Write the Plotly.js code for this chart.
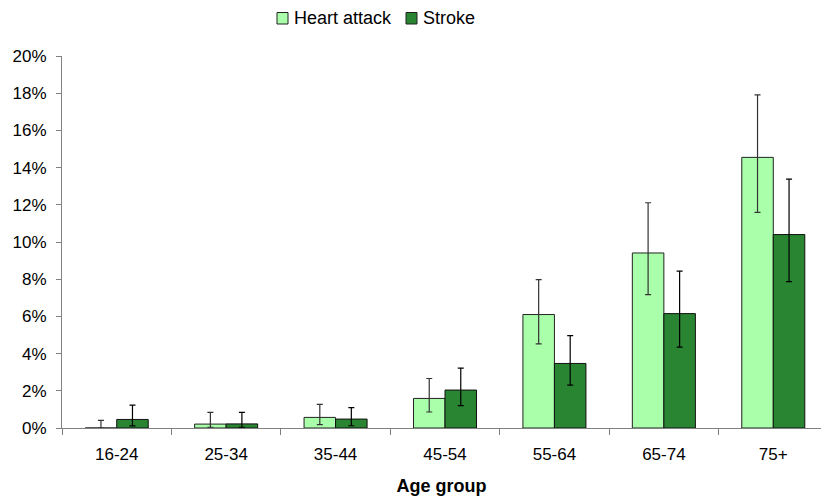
<!DOCTYPE html>
<html>
<head>
<meta charset="utf-8">
<script src="https://cdn.plot.ly/plotly-3.0.1.min.js"></script>
<style>
  html, body { margin: 0; padding: 0; background: #fff; }
  #chart { width: 821px; height: 497px; }
</style>
</head>
<body>
<div id="chart"></div>
<script>
// Prevalence by age group, with 95% confidence intervals (percent)
const ageGroups = ['16-24', '25-34', '35-44', '45-54', '55-64', '65-74', '75+'];

const heartAttack     = [0.0, 0.21, 0.57, 1.59, 6.10, 9.41, 14.55];
const heartAttackLow  = [0.0, 0.04, 0.18, 0.86, 4.52, 7.17, 11.59];
const heartAttackHigh = [0.41, 0.84, 1.27, 2.66, 7.98, 12.11, 17.91];

const stroke     = [0.46, 0.22, 0.48, 2.04, 3.47, 6.15, 10.40];
const strokeLow  = [0.11, 0.04, 0.12, 1.20, 2.31, 4.35, 7.87];
const strokeHigh = [1.23, 0.84, 1.10, 3.22, 4.97, 8.43, 13.38];

const yTicks = [0, 2, 4, 6, 8, 10, 12, 14, 16, 18, 20];

const heartColor = '#AAFFAA';
const strokeColor = '#2A8532';
const axisColor = '#808080';
const font = 'Liberation Sans, Arial, sans-serif';

const plus = (v, hi) => v.map((d, i) => hi[i] - d);
const minus = (v, lo) => v.map((d, i) => d - lo[i]);

const traces = [
  {
    type: 'bar', name: 'Heart attack', x: ageGroups, y: heartAttack,
    marker: { color: heartColor, line: { color: '#222', width: 1 } },
    error_y: {
      type: 'data', symmetric: false,
      array: plus(heartAttack, heartAttackHigh),
      arrayminus: minus(heartAttack, heartAttackLow),
      color: '#333', thickness: 1.2, width: 3
    },
    showlegend: false
  },
  {
    type: 'bar', name: 'Stroke', x: ageGroups, y: stroke,
    marker: { color: strokeColor, line: { color: '#111', width: 1 } },
    error_y: {
      type: 'data', symmetric: false,
      array: plus(stroke, strokeHigh),
      arrayminus: minus(stroke, strokeLow),
      color: '#000', thickness: 1.2, width: 3
    },
    showlegend: false
  }
];

// Plot area in pixels, used to place the legend keys
const M = { l: 62, r: 0, t: 56, b: 69 };
const W = 821, H = 497;
const pw = W - M.l - M.r, ph = H - M.t - M.b;
const px = x => (x - M.l) / pw;
const py = y => (H - M.b - y) / ph;

const legendItems = [
  { label: 'Heart attack', color: heartColor, x: 277 },
  { label: 'Stroke', color: strokeColor, x: 406 }
];

const shapes = legendItems.map(it => ({
  type: 'rect', xref: 'paper', yref: 'paper',
  x0: px(it.x), x1: px(it.x + 11), y0: py(24), y1: py(12.5),
  fillcolor: it.color, line: { color: '#222', width: 1 }
}));

const annotations = legendItems.map(it => ({
  xref: 'paper', yref: 'paper', x: px(it.x + 15), y: py(18.5),
  xanchor: 'left', yanchor: 'middle', showarrow: false,
  text: it.label, font: { family: font, size: 18, color: '#000' }
}));

const layout = {
  width: W, height: H,
  margin: M,
  paper_bgcolor: '#fff', plot_bgcolor: '#fff',
  barmode: 'group', bargap: 0.424, bargroupgap: 0,
  font: { family: font, size: 17, color: '#000' },
  xaxis: {
    type: 'category',
    range: [-0.5, 6.436],
    tickson: 'boundaries',
    ticks: 'outside', ticklen: 6, tickcolor: axisColor, tickwidth: 1,
    showline: true, linecolor: axisColor, linewidth: 1,
    showgrid: false, zeroline: false,
    tickfont: { family: font, size: 17 },
    ticklabelstandoff: 11,
    title: { text: '<b>Age group</b>', font: { family: font, size: 18 }, standoff: 15 }
  },
  yaxis: {
    range: [0, 20],
    tickvals: yTicks,
    ticktext: yTicks.map(v => v + '%'),
    ticks: 'outside', ticklen: 5, tickcolor: axisColor, tickwidth: 1,
    showline: true, linecolor: axisColor, linewidth: 1,
    showgrid: false, zeroline: false,
    tickfont: { family: font, size: 17 },
    ticklabelstandoff: 6
  },
  shapes: shapes,
  annotations: annotations
};

Plotly.newPlot('chart', traces, layout, { displayModeBar: false, staticPlot: true });
</script>
</body>
</html>
